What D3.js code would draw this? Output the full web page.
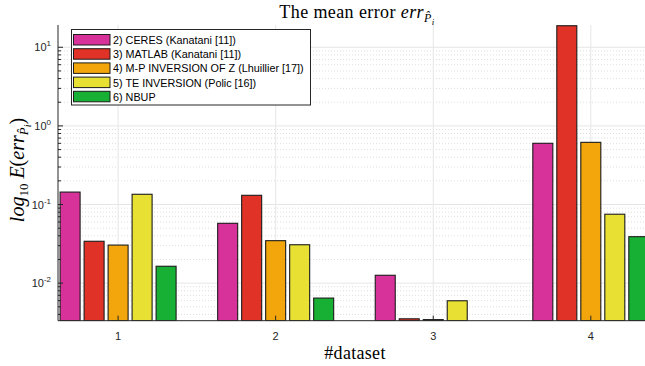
<!DOCTYPE html>
<html>
<head>
<meta charset="utf-8">
<script src="https://cdn.jsdelivr.net/npm/d3@7"></script>
<style>
  html, body { margin: 0; padding: 0; background: #fff; }
  svg { display: block; }
</style>
</head>
<body>
<svg id="chart" width="645" height="366"></svg>
<script>
// Mean error per dataset and method (log scale)
const datasets = [1, 2, 3, 4];
const methods = [
  "2) CERES (Kanatani [11])",
  "3) MATLAB (Kanatani [11])",
  "4) M-P INVERSION OF Z (Lhuillier [17])",
  "5) TE INVERSION (Polic [16])",
  "6) NBUP"
];
const colors = ["#d6329a", "#e03226", "#f2a60c", "#e8e032", "#18b034"];
const ceres     = [0.144, 0.0577, 0.0126, 0.601];
const matlab    = [0.0341, 0.131, 0.00352, 18.8];
const mpInverse = [0.0305, 0.0347, 0.00344, 0.618];
const teInverse = [0.135, 0.0308, 0.00597, 0.0753];
const nbup      = [0.0164, 0.00646, 0.0033, 0.039];
const series = [ceres, matlab, mpInverse, teInverse, nbup];
const yTicks = [0.01, 0.1, 1, 10];

const svg = d3.select("#chart");
const mLeft = 58, mRight = 651, mTop = 25, mBottom = 320.7;

const x = d3.scaleLinear().domain([0.6186, 4.382]).range([mLeft, mRight]);
const y = d3.scaleLog().domain([0.00333, 19.2]).range([mBottom, mTop]);

const barW = 20, stride = 24;

svg.append("defs").append("clipPath").attr("id", "plotclip")
  .append("rect").attr("x", mLeft).attr("y", mTop)
  .attr("width", mRight - mLeft).attr("height", mBottom - mTop);

// grid
const grid = svg.append("g");
const minor = [];
for (let e = -3; e <= 1; e++) {
  for (let m = 2; m <= 9; m++) {
    const v = m * Math.pow(10, e);
    if (v > y.domain()[0] && v < y.domain()[1]) minor.push(v);
  }
}
grid.selectAll("line.minor").data(minor).join("line")
  .attr("x1", mLeft).attr("x2", mRight)
  .attr("y1", d => y(d)).attr("y2", d => y(d))
  .attr("stroke", "#dedede").attr("stroke-width", 1)
  .attr("stroke-dasharray", "1,2");
grid.selectAll("line.major").data(yTicks).join("line")
  .attr("x1", mLeft).attr("x2", mRight)
  .attr("y1", d => y(d)).attr("y2", d => y(d))
  .attr("stroke", "#e6e6e6").attr("stroke-width", 1);
grid.selectAll("line.vx").data(datasets).join("line")
  .attr("x1", d => x(d)).attr("x2", d => x(d))
  .attr("y1", mTop).attr("y2", mBottom)
  .attr("stroke", "#e6e6e6").attr("stroke-width", 1);

// bars
const bars = svg.append("g").attr("clip-path", "url(#plotclip)");
series.forEach((vals, i) => {
  bars.selectAll(null).data(vals.map((v, j) => ({v, d: datasets[j]}))).join("rect")
    .attr("x", d => x(d.d) + (i - 2) * stride - barW / 2)
    .attr("width", barW)
    .attr("y", d => y(d.v))
    .attr("height", d => Math.max(0, mBottom - y(d.v)))
    .attr("fill", colors[i])
    .attr("stroke", "#1c1c1c")
    .attr("stroke-width", 1.1);
});

// axes
const yAxis = svg.append("g");
yAxis.append("line").attr("x1", mLeft).attr("x2", mLeft).attr("y1", mTop).attr("y2", mBottom)
  .attr("stroke", "#262626").attr("stroke-width", 1);
yAxis.selectAll("line.mt").data(yTicks).join("line")
  .attr("x1", mLeft).attr("x2", mLeft + 5)
  .attr("y1", d => y(d)).attr("y2", d => y(d))
  .attr("stroke", "#262626");
yAxis.selectAll("line.nt").data(minor).join("line")
  .attr("x1", mLeft).attr("x2", mLeft + 3)
  .attr("y1", d => y(d)).attr("y2", d => y(d))
  .attr("stroke", "#262626");
const yl = yAxis.selectAll("text").data(yTicks).join("text")
  .attr("x", mLeft - 7).attr("y", d => y(d) + 4)
  .attr("text-anchor", "end")
  .attr("font-family", "Liberation Sans, Arial, sans-serif")
  .attr("font-size", 11).attr("fill", "#262626");
yl.append("tspan").text("10");
yl.append("tspan").attr("dy", -5).attr("font-size", 8)
  .text(d => String(Math.round(Math.log10(d))));

const xAxis = svg.append("g");
xAxis.append("line").attr("x1", mLeft).attr("x2", mRight).attr("y1", mBottom).attr("y2", mBottom)
  .attr("stroke", "#262626").attr("stroke-width", 1);
xAxis.selectAll("line.t").data(datasets).join("line")
  .attr("x1", d => x(d)).attr("x2", d => x(d))
  .attr("y1", mBottom).attr("y2", mBottom - 5)
  .attr("stroke", "#262626");
xAxis.selectAll("text").data(datasets).join("text")
  .attr("x", d => x(d)).attr("y", 340)
  .attr("text-anchor", "middle")
  .attr("font-family", "Liberation Sans, Arial, sans-serif")
  .attr("font-size", 11).attr("fill", "#262626")
  .text(d => d);

// titles
const serif = "Liberation Serif, Times New Roman, serif";
const title = svg.append("text").attr("x", 357).attr("y", 18)
  .attr("text-anchor", "middle").attr("font-family", serif)
  .attr("font-size", 18).attr("letter-spacing", 0.4).attr("fill", "#000");
title.append("tspan").text("The mean error ");
title.append("tspan").attr("font-style", "italic").text("err");
title.append("tspan").attr("font-style", "italic").attr("font-size", 12).attr("dy", 4).text("P\u0302");
title.append("tspan").attr("font-style", "italic").attr("font-size", 9).attr("dy", 3).text("i");

svg.append("text").attr("x", 355).attr("y", 359)
  .attr("text-anchor", "middle").attr("font-family", serif)
  .attr("font-size", 18).attr("letter-spacing", 0.3).attr("fill", "#000").text("#dataset");

const ylab = svg.append("text")
  .attr("transform", "translate(24,170) rotate(-90)")
  .attr("text-anchor", "middle").attr("font-family", serif)
  .attr("font-size", 20).attr("fill", "#000");
ylab.append("tspan").attr("font-style", "italic").text("log");
ylab.append("tspan").attr("font-size", 13).attr("dy", 4).text("10");
ylab.append("tspan").attr("dy", -4).text(" ");
ylab.append("tspan").attr("font-style", "italic").text("E");
ylab.append("tspan").text("(");
ylab.append("tspan").attr("font-style", "italic").text("err");
ylab.append("tspan").attr("font-style", "italic").attr("font-size", 13).attr("dy", 4).text("P\u0302");
ylab.append("tspan").attr("font-style", "italic").attr("font-size", 10).attr("dy", 3).text("i");
ylab.append("tspan").attr("dy", -7).text(")");

// legend
const lg = svg.append("g");
lg.append("rect").attr("x", 71.5).attr("y", 29.5).attr("width", 239).attr("height", 75.5)
  .attr("fill", "#fff").attr("stroke", "#262626").attr("stroke-width", 1);
methods.forEach((m, i) => {
  const yy = 34.5 + i * 14.2;
  lg.append("rect").attr("x", 73.5).attr("y", yy).attr("width", 36.5).attr("height", 10.5)
    .attr("fill", colors[i]).attr("stroke", "#1c1c1c").attr("stroke-width", 1);
  lg.append("text").attr("x", 113).attr("y", yy + 9.5)
    .attr("font-family", "Liberation Sans, Arial, sans-serif")
    .attr("font-size", 10.8).attr("fill", "#000").text(m);
});
</script>
</body>
</html>
